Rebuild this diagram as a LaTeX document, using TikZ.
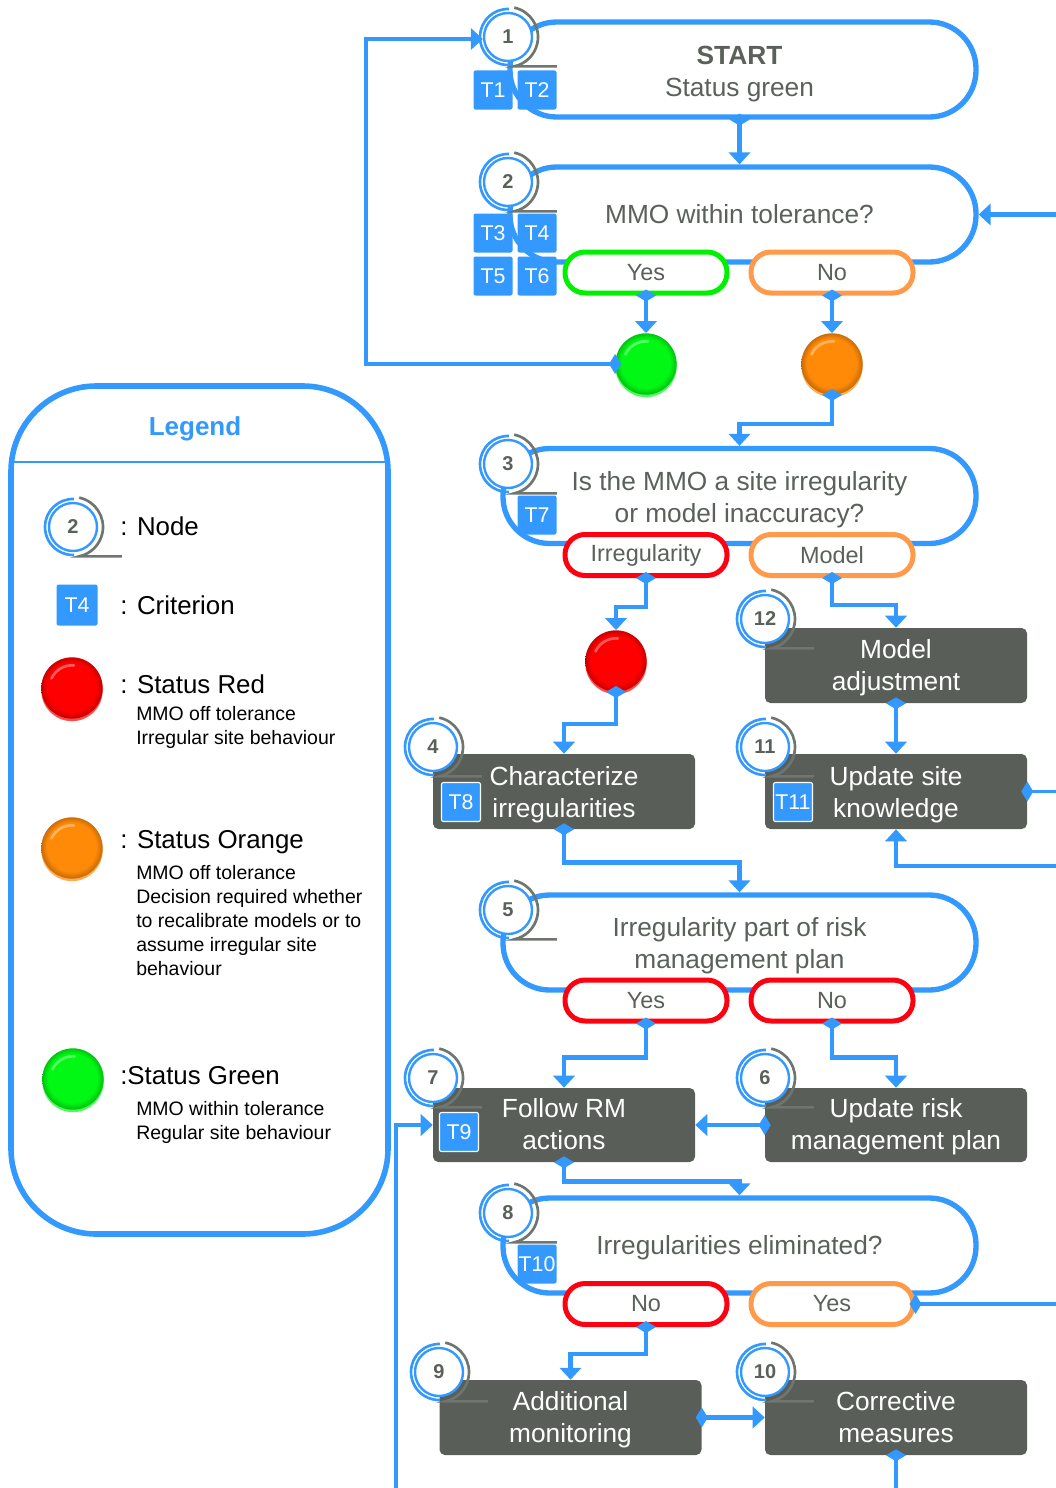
\documentclass[tikz,border=0pt]{standalone}
\usepackage{fontspec}
\setmainfont{Liberation Sans}
\usetikzlibrary{arrows.meta}
\definecolor{flow}{HTML}{3399FF}
\definecolor{boxgray}{HTML}{595F58}
\definecolor{txtgray}{HTML}{5A605A}
\definecolor{ringgray}{HTML}{6F756F}
\definecolor{pillgreen}{HTML}{00F000}
\definecolor{pillorange}{HTML}{FF9A4A}
\definecolor{pillred}{HTML}{FF0010}
\definecolor{bR}{HTML}{FF0000}
\definecolor{bO}{HTML}{FF8A08}
\definecolor{bG}{HTML}{00F814}
\pgfdeclareradialshading{rball}{\pgfpoint{-1.5bp}{2.5bp}}{color(0bp)=(bR);color(20bp)=(bR);color(25bp)=(bR!78!black);color(29bp)=(bR!40!black)}
\pgfdeclareradialshading{oball}{\pgfpoint{-1.5bp}{2.5bp}}{color(0bp)=(bO);color(20bp)=(bO);color(25bp)=(bO!78!black);color(29bp)=(bO!40!black)}
\pgfdeclareradialshading{gball}{\pgfpoint{-1.5bp}{2.5bp}}{color(0bp)=(bG);color(20bp)=(bG);color(25bp)=(bG!78!black);color(29bp)=(bG!40!black)}
\tikzset{
  dims/.style 2 args={minimum width=#1*0.75pt,minimum height=#2*0.75pt},
  bigshape/.style={draw=flow,line width=4pt,fill=white,rounded corners=35pt,inner sep=0pt,dims={473}{95}},
  shapetext/.style={inner sep=0pt,font=\fontsize{19.7}{24}\selectfont,text=txtgray,align=center},
  pill/.style={draw=#1,line width=3.75pt,fill=white,rounded corners=15pt,inner sep=0pt,dims={162}{41},
    font=\fontsize{17.6}{22}\selectfont,text=txtgray},
  graybox/.style={fill=boxgray,rounded corners=4pt,inner sep=0pt,dims={262}{75}},
  boxtext/.style={inner sep=0pt,font=\fontsize{19.7}{24}\selectfont,text=white,align=center},
  crit/.style={fill=flow,rounded corners=1.5pt,inner sep=0pt,dims={39}{39},
    font=\fontsize{16}{18}\selectfont,text=white},
  critw/.style={crit,draw=white,line width=0.8pt},
  ballnode/.style={circle,shade,shading=#1,inner sep=0pt,minimum size=46pt},
  badgecore/.style={circle,draw=flow,line width=1.8pt,fill=white,inner sep=0pt,minimum size=36pt,
    font=\fontsize{15}{18}\bfseries\selectfont,text=txtgray},
  flowline/.style={draw=flow,line width=3.4pt,line join=miter},
  thinline/.style={line width=2.6pt},
  arr/.style={flowline,-{Triangle[length=9pt,width=16pt]}},
  dia/.style={flowline,{Diamond[length=9pt,width=15pt]}-,shorten <=-4.5pt},
  diaarr/.style={flowline,{Diamond[length=9pt,width=15pt]}-{Triangle[length=9pt,width=16pt]},shorten <=-4.5pt},
  lg/.style={anchor=west,inner sep=0pt,font=\fontsize{19.4}{24}\selectfont,text=black},
  lgs/.style={anchor=west,inner sep=0pt,font=\fontsize{14.6}{18}\selectfont,text=black,align=left},
}
\newcommand{\badge}[4]{%
  \node[badgecore] (#1) at (#2,#3) {#4};
  \draw[flow,line width=2pt] (#1.center)+(88:21pt) arc[start angle=88,end angle=272,radius=21pt];
  \draw[ringgray,line width=2pt] (#1.center)+(78:22.5pt) arc[start angle=78,end angle=-78,radius=22.5pt]
     -- ++(32pt,0);
}
\newcommand{\ball}[5]{%
  \fill[#5!70!white] (#2,#3+2.5) circle[radius=23pt];
  \node[ballnode=#4] (#1) at (#2,#3) {};
  \draw[white,opacity=0.35,line width=2pt,line cap=round] (#1.center)+(155:17pt) arc[start angle=155,end angle=85,radius=17pt];
}
\begin{document}
\begin{tikzpicture}[x=0.75pt,y=-0.75pt]
\useasboundingbox (0,0) rectangle (1056,1488);
% legend
\node[draw=flow,line width=4.2pt,fill=white,rounded corners=64pt,dims={377}{848},inner sep=0pt] (legend) at (199.5,810) {};
\node[inner sep=0pt,font=\fontsize{19.5}{24}\bfseries\selectfont,text=flow] (legendtitle) at (195,429) {Legend};
\draw[flow,line width=1.5pt] (13,462) -- (386,462);
\badge{lgnode}{73}{527}{2}
\node[lg] (lgnodet) at (120,526) {: Node};
\node[crit,dims={41}{41}] (lgcrit) at (77,605) {T4};
\node[lg] (lgcritt) at (120,605) {: Criterion};
\ball{lgred}{72}{688}{rball}{bR}
\node[lg] (lgredt) at (120,684) {: Status Red};
\node[lgs] (lgreds) at (136,727) {MMO off tolerance\\Irregular site behaviour};
\ball{lgorange}{72}{848}{oball}{bO}
\node[lg] (lgoranget) at (120,842) {: Status Orange};
\node[lgs] (lgoranges) at (136,921) {MMO off tolerance\\Decision required whether\\to recalibrate models or to\\assume irregular site\\behaviour};
\ball{lggreen}{73}{1079}{gball}{bG}
\node[lg] (lggreent) at (120,1076) {:Status Green};
\node[lgs] (lggreens) at (136,1122) {MMO within tolerance\\Regular site behaviour};
% big shapes
\node[bigshape,dims={466}{95}] (s1) at (743,69.5) {};
\node[bigshape,dims={466}{95}] (s2) at (743,214.5) {};
\node[bigshape] (s3) at (739.5,496) {};
\node[bigshape] (s5) at (739.5,942.5) {};
\node[bigshape] (s8) at (739.5,1245.5) {};
\node[shapetext] (s1t) at (739.5,74) {\textbf{START}\\Status green};
\node[shapetext] (s2t) at (739.5,214.5) {MMO within tolerance?};
\node[shapetext] (s3t) at (739.5,500) {Is the MMO a site irregularity\\or model inaccuracy?};
\node[shapetext] (s5t) at (739.5,945.5) {Irregularity part of risk\\management plan};
\node[shapetext] (s8t) at (739.5,1248) {Irregularities eliminated?};
% pills
\node[pill=pillgreen] (p2y) at (646,272.5) {Yes};
\node[pill=pillorange] (p2n) at (832,272.5) {No};
\node[pill=pillred] (p3i) at (646,555) {Irregularity};
\node[pill=pillorange] (p3m) at (832,555) {Model};
\node[pill=pillred] (p5y) at (646,1000.5) {Yes};
\node[pill=pillred] (p5n) at (832,1000.5) {No};
\node[pill=pillred] (p8n) at (646,1304) {No};
\node[pill=pillorange] (p8y) at (832,1304) {Yes};
% balls
\ball{bgreen}{646}{364}{gball}{bG}
\ball{borange}{832}{364}{oball}{bO}
\ball{bred}{616}{661}{rball}{bR}
% boxes
\node[graybox] (b12) at (896,665.5) {};
\node[graybox] (b11) at (896,791.5) {};
\node[graybox] (b4) at (564,791.5) {};
\node[graybox,dims={262}{74}] (b6) at (896,1125) {};
\node[graybox,dims={262}{74}] (b7) at (564,1125) {};
\node[graybox] (b9) at (570.5,1417.5) {};
\node[graybox] (b10) at (896,1417.5) {};
\node[boxtext] (b12t) at (896,667.5) {Model\\adjustment};
\node[boxtext] (b11t) at (896,794.5) {Update site\\knowledge};
\node[boxtext] (b4t) at (564,794.5) {Characterize\\irregularities};
\node[boxtext] (b6t) at (896,1127) {Update risk\\management plan};
\node[boxtext] (b7t) at (564,1124.5) {Follow RM\\actions};
\node[boxtext] (b9t) at (570.5,1419.5) {Additional\\monitoring};
\node[boxtext] (b10t) at (896,1417.5) {Corrective\\measures};
% criteria
\node[crit] (t1) at (493,90) {T1};
\node[crit] (t2) at (537,90) {T2};
\node[crit] (t3) at (493,233) {T3};
\node[crit] (t4) at (537,233) {T4};
\node[crit] (t5) at (493,276) {T5};
\node[crit] (t6) at (537,276) {T6};
\node[crit] (t7) at (537,515) {T7};
\node[critw] (t8) at (461,802) {T8};
\node[critw] (t11) at (793,802) {T11};
\node[critw] (t9) at (459,1132) {T9};
\node[crit] (t10) at (537,1264) {T10};
% badges
\badge{n1}{508}{37}{1}
\badge{n2}{508}{182}{2}
\badge{n3}{508}{464}{3}
\badge{n5}{508}{910}{5}
\badge{n8}{508}{1213}{8}
\badge{n4}{433}{747}{4}
\badge{n12}{765}{619}{12}
\badge{n11}{765}{747}{11}
\badge{n7}{433}{1078}{7}
\badge{n6}{765}{1078}{6}
\badge{n9}{439}{1372}{9}
\badge{n10}{765}{1372}{10}
% free ends
\coordinate (e2) at (1056,214.5);
\coordinate (e11a) at (1056,791.5);
\coordinate (e11b) at (1056,866);
\coordinate (e8) at (1056,1304);
\coordinate (e10) at (896,1488);
\coordinate (e7) at (396,1488);
% connectors
\draw[diaarr] (bgreen.west) -- ++(-249,0) |- ([yshift=-1.5pt]n1.west);
\draw[diaarr] ([xshift=-2.6pt]s1.south) -- ([xshift=-2.6pt]s2.north);
\draw[arr] (e2) -- (s2.east);
\draw[diaarr] (p2y.south) -- (bgreen.north);
\draw[diaarr] (p2n.south) -- (borange.north);
\draw[diaarr] (borange.south) -- ++(0,29) -| (s3.north);
\draw[diaarr] (p3i.south) -- ++(0,29) -| (bred.north);
\draw[diaarr] (p3m.south) -- ++(0,27) -| (b12.north);
\draw[diaarr] (bred.south) -- ++(0,32) -| (b4.north);
\draw[diaarr] (b12.south) -- (b11.north);
\draw[dia,thinline] (b11.east) -- (e11a);
\draw[arr] (e11b) -| (b11.south);
\draw[diaarr] (b4.south) -- ++(0,33) -| (s5.north);
\draw[diaarr] (p5y.south) -- ++(0,34) -| (b7.north);
\draw[diaarr] (p5n.south) -- ++(0,34) -| (b6.north);
\draw[diaarr] (b6.west) -- (b7.east);
\draw[arr,thinline] (e7) |- (b7.west);
\draw[diaarr] (b7.south) -- ++(0,19) -| (s8.north);
\draw[diaarr] (p8n.south) -- ++(0,27) -| (b9.north);
\draw[dia,thinline] (p8y.east) -- (e8);
\draw[diaarr] (b9.east) -- (b10.west);
\draw[dia,thinline] (b10.south) -- (e10);
\end{tikzpicture}
\end{document}
